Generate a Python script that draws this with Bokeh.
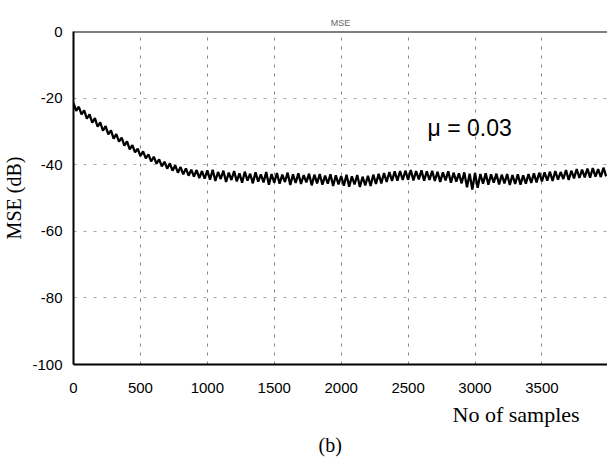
from bokeh.plotting import figure
from bokeh.models import Range1d, Span, Label, FixedTicker, Title
from bokeh.embed import file_html
from bokeh.resources import INLINE

# ---- data ----
x_ticks = [0, 500, 1000, 1500, 2000, 2500, 3000, 3500, 4000]
y_ticks = [-100, -80, -60, -40, -20, 0]
step = 20
n_samples = list(range(0, 4000, step))
mse_db = [
    -21.5, -23.8, -22.6, -24.9, -23.7, -26.2, -24.9, -27.4, -26.0, -28.6,
    -27.3, -29.8, -28.4, -30.9, -29.7, -32.2, -30.8, -33.1, -31.9, -34.3,
    -33.0, -35.4, -34.1, -36.3, -35.2, -37.4, -36.0, -38.1, -36.9, -39.0,
    -37.6, -39.7, -38.4, -40.5, -39.1, -41.2, -39.6, -41.8, -40.2, -42.4,
    -40.7, -42.9, -41.1, -43.3, -41.5, -43.6, -41.6, -44.0, -41.9, -44.2,
    -41.7, -44.5, -41.5, -44.9, -42.2, -44.3, -41.8, -45.2, -42.4, -44.6,
    -41.9, -45.0, -42.6, -45.4, -42.1, -44.8, -42.7, -45.6, -42.3, -45.1,
    -42.9, -45.3, -42.2, -46.0, -42.8, -45.4, -42.5, -45.7, -43.0, -45.2,
    -42.4, -46.1, -42.9, -45.5, -42.6, -45.8, -43.1, -45.3, -42.7, -46.2,
    -43.0, -45.6, -42.8, -46.0, -43.3, -45.7, -42.9, -46.4, -43.2, -45.9,
    -43.4, -46.3, -43.0, -46.6, -43.5, -45.9, -43.1, -46.7, -43.6, -46.2,
    -43.3, -46.4, -43.0, -45.8, -42.7, -45.6, -42.5, -45.2, -42.2, -44.9,
    -42.0, -44.8, -41.9, -44.6, -41.8, -44.5, -41.6, -44.7, -41.9, -44.4,
    -41.7, -44.8, -42.0, -44.6, -41.8, -44.9, -42.1, -45.2, -42.3, -44.7,
    -42.0, -45.4, -42.4, -45.1, -42.6, -45.6, -42.3, -46.8, -42.7, -47.5,
    -42.5, -46.9, -42.8, -45.7, -42.6, -46.0, -42.9, -45.4, -42.7, -45.9,
    -43.0, -45.6, -42.8, -46.1, -43.1, -45.8, -42.9, -46.0, -43.2, -45.7,
    -42.8, -45.5, -42.6, -45.3, -42.4, -45.0, -42.3, -44.8, -42.1, -44.9,
    -41.9, -44.5, -42.2, -44.3, -41.6, -44.6, -41.8, -44.1, -41.3, -44.0,
    -41.5, -43.8, -41.2, -43.9, -41.0, -43.6, -41.3, -43.7, -40.9, -43.5,
]
title_text = "MSE"
x_label = "No of samples"
y_label = "MSE (dB)"
mu_text = "\u03bc = 0.03"
panel_text = "(b)"

p = figure(width=607, height=460, output_backend="svg", toolbar_location=None,
           x_range=Range1d(0, 3990), y_range=Range1d(-100, 0),
           min_border_left=70, min_border_right=0, min_border_top=31,
           min_border_bottom=96)
p.background_fill_color = "white"
p.border_fill_color = "white"
p.outline_line_color = None

# title
p.title.text = title_text
p.title.align = "center"
p.title.text_font = "Liberation Sans"
p.title.text_font_size = "9px"
p.title.text_font_style = "normal"
p.title.text_color = "#666666"
p.title.standoff = 8

# axes
p.xaxis.ticker = FixedTicker(ticks=x_ticks)
p.yaxis.ticker = FixedTicker(ticks=y_ticks)
p.xaxis.major_label_overrides = {t: str(t) for t in x_ticks}
p.yaxis.major_label_overrides = {t: str(t) for t in y_ticks}
for ax in (p.xaxis[0], p.yaxis[0]):
    ax.axis_line_color = "black"
    ax.axis_line_width = 2
    ax.major_tick_line_color = None
    ax.minor_tick_line_color = None
    ax.major_label_text_font = "Liberation Sans"
    ax.major_label_text_font_size = "15px"
    ax.major_label_text_color = "black"
p.xaxis.major_label_standoff = 12
p.yaxis.major_label_standoff = 5
p.yaxis.axis_label = y_label
p.yaxis.axis_label_text_font = "Liberation Serif"
p.yaxis.axis_label_text_font_size = "20px"
p.yaxis.axis_label_text_font_style = "normal"
p.yaxis.axis_label_text_color = "black"
p.yaxis.axis_label_standoff = 4

# texts below the axis
p.add_layout(Title(text=x_label, align="left", offset=379, standoff=9,
                   text_font="Liberation Serif", text_font_size="22px",
                   text_font_style="normal", text_color="black"), "below")
p.add_layout(Title(text=panel_text, align="left", offset=245, standoff=0,
                   text_font="Liberation Serif", text_font_size="20px",
                   text_font_style="normal", text_color="black"), "below")

# grid
p.xgrid.ticker = FixedTicker(ticks=x_ticks)
p.ygrid.ticker = FixedTicker(ticks=y_ticks)
p.xgrid.grid_line_color = "#222222"
p.xgrid.grid_line_alpha = 0.55
p.xgrid.grid_line_dash = "3 6"
p.ygrid.grid_line_color = "#222222"
p.ygrid.grid_line_alpha = 0.4
p.ygrid.grid_line_dash = "3 7"

# top border
p.add_layout(Span(location=y_ticks[-1], dimension="width",
                  line_color="black", line_width=2))

# data
p.line(n_samples, mse_db, line_color="black", line_width=2.3)

p.add_layout(Label(x=2645, y=-29, text=mu_text, text_align="left",
                   text_baseline="middle", text_font="Liberation Sans",
                   text_font_size="23px", text_color="black"))

open("out.html", "w").write(file_html(p, INLINE))
